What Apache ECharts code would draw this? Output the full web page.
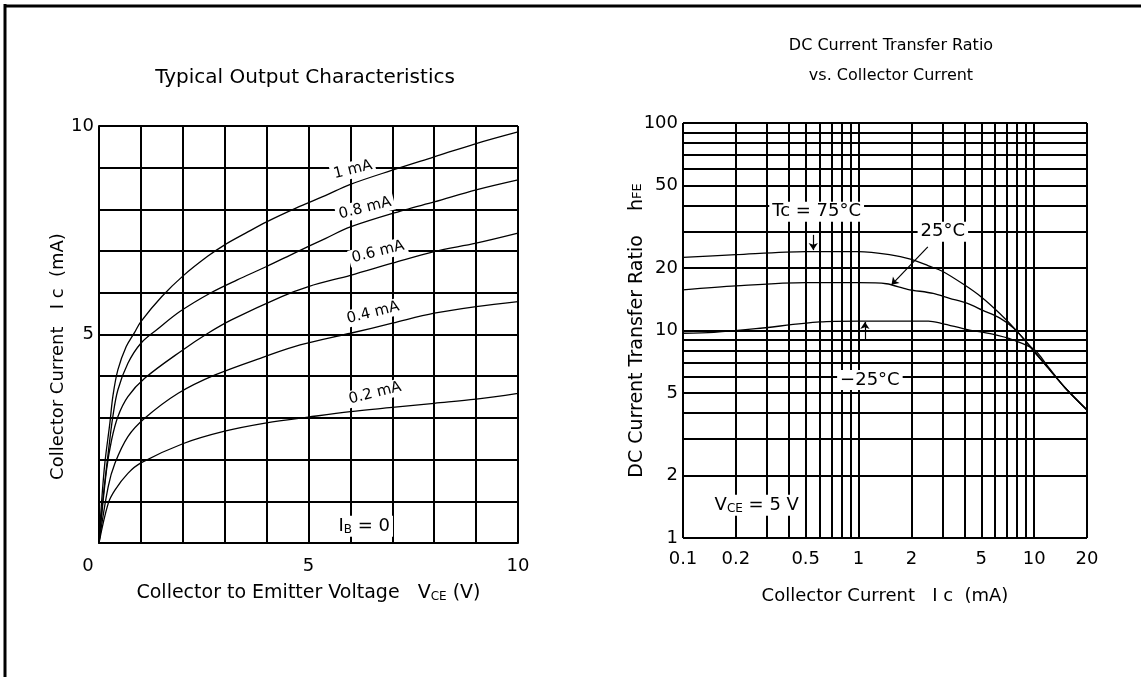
<!DOCTYPE html>
<html><head><meta charset="utf-8">
<script src="https://cdn.jsdelivr.net/npm/echarts@6/dist/echarts.min.js"></script>
<style>html,body{margin:0;padding:0;background:#fff}#c{width:1141px;height:677px}</style>
</head><body><div id="c"></div>
<script>
// ---------- Left chart: Typical Output Characteristics (VCE [V], Ic [mA]) ----------
const ibLabels = ['1 mA', '0.8 mA', '0.6 mA', '0.4 mA', '0.2 mA'];
const curveIb10 = [[0,0],[0.06,0.96],[0.14,1.92],[0.26,2.88],[0.33,3.51],[0.45,4.15],[0.65,4.71],[0.85,5.05],[1.0,5.31],[1.5,5.91],[2.0,6.4],[2.6,6.88],[3.0,7.15],[3.5,7.43],[4.0,7.7],[4.7,8.03],[5.4,8.33],[6.0,8.6],[7.0,8.94],[8.0,9.26],[9.0,9.58],[10,9.86]];
const curveIb08 = [[0,0],[0.1,1.11],[0.22,2.16],[0.33,3.03],[0.45,3.67],[0.69,4.31],[1.0,4.79],[1.4,5.13],[1.93,5.55],[2.65,5.99],[3.3,6.31],[4.0,6.63],[4.7,6.97],[5.4,7.3],[6.0,7.58],[7.3,7.99],[8.0,8.18],[9.0,8.47],[10,8.71]];
const curveIb06 = [[0,0],[0.18,1.75],[0.3,2.47],[0.45,3.03],[0.69,3.51],[1.09,3.95],[2.0,4.63],[2.6,5.03],[3.16,5.35],[4.36,5.91],[5.0,6.15],[6.0,6.42],[7.0,6.71],[8.0,6.99],[9.0,7.19],[10,7.43]];
const curveIb04 = [[0,0],[0.22,1.35],[0.38,1.91],[0.69,2.55],[1.09,2.99],[1.89,3.59],[2.77,4.03],[3.96,4.47],[4.8,4.75],[6.0,5.03],[7.0,5.27],[8.0,5.51],[9.0,5.67],[10,5.79]];
const curveIb02 = [[0,0],[0.22,0.95],[0.38,1.27],[0.69,1.67],[1.0,1.92],[2.0,2.38],[3.0,2.68],[4.0,2.88],[5.0,3.02],[6.0,3.15],[7.0,3.25],[8.0,3.35],[9.0,3.45],[10,3.59]];
const curveIb0 = [[0,0],[10,0]];
const leftXTicks = [0, 5, 10];
const leftYTicks = [5, 10];

// ---------- Right chart: hFE vs Ic (log-log) ----------
const tempLabels = ['Tc = 75°C', '25°C', '−25°C'];
const hfe75 = [[0.1,22.5],[0.2,23.2],[0.5,24],[1,24],[1.5,23.2],[2,22],[2.5,20.5],[3,19.3],[4,16.6],[5,14.5],[6.35,12.1],[8,9.9],[10,7.9],[12.2,6.5],[15,5.3],[20,4.14]];
const hfe25 = [[0.1,15.7],[0.2,16.4],[0.5,17.0],[1,17.0],[1.44,16.8],[1.9,15.8],[2.66,15.1],[3.3,14.3],[4.17,13.5],[5.1,12.5],[6.35,11.5],[7.6,10.3],[9.5,8.4],[12,6.6],[15,5.3],[20,4.14]];
const hfeM25 = [[0.1,9.7],[0.15,9.8],[0.26,10.2],[0.6,11.0],[1,11.1],[2.5,11.1],[3,10.8],[4.17,10.1],[5.8,9.6],[7.6,9.0],[10,8.1],[12,6.7],[15,5.3],[20,4.14]];
const rightXTicks = [0.1, 0.2, 0.5, 1, 2, 5, 10, 20];
const rightYTicks = [1, 2, 5, 10, 20, 50, 100];
const rightXGrid = [0.1,0.2,0.3,0.4,0.5,0.6,0.7,0.8,0.9,1,2,3,4,5,6,7,8,9,10,20];
const rightYGrid = [1,2,3,4,5,6,7,8,9,10,20,30,40,50,60,70,80,90,100];

const FONT = 'DejaVu Sans';
const BLACK = '#000';
const FS = 18;
const chart = echarts.init(document.getElementById('c'), null, {renderer: 'canvas'});

const subRich = {
  sub: {fontSize: 12, fontFamily: FONT, color: BLACK, padding: [7, 0, 0, 0]}
};
const subRichV = {
  sub: {fontSize: 13, fontFamily: FONT, color: BLACK}
};

function curveSeries(data) {
  return {
    type: 'line', xAxisIndex: 0, yAxisIndex: 0, data: data,
    showSymbol: false, symbol: 'none', smooth: 0.35, silent: true, animation: false,
    lineStyle: {color: BLACK, width: 1.3}, z: 3
  };
}
function rCurve(data) {
  return {
    type: 'line', xAxisIndex: 1, yAxisIndex: 1, data: data,
    showSymbol: false, symbol: 'none', smooth: 0.3, silent: true, animation: false,
    lineStyle: {color: BLACK, width: 1.3}, z: 3
  };
}
const annLabel = {
  show: true, position: 'inside', color: BLACK, fontFamily: FONT, fontSize: 15,
  backgroundColor: '#fff', padding: [1, 3]
};
const leftAnn = [
  {coord: [6.06, 8.95], value: ibLabels[0]},
  {coord: [6.35, 8.03], value: ibLabels[1]},
  {coord: [6.66, 6.98], value: ibLabels[2]},
  {coord: [6.54, 5.52], value: ibLabels[3]},
  {coord: [6.59, 3.59], value: ibLabels[4]}
];

// grid lines for log chart (drawn through axis scales via markLine coords)
const gridLines = [];
rightXGrid.forEach(v => gridLines.push([{coord: [v, rightYGrid[0]]}, {coord: [v, rightYGrid[rightYGrid.length - 1]]}]));
rightYGrid.forEach(v => gridLines.push([{coord: [rightXGrid[0], v]}, {coord: [rightXGrid[rightXGrid.length - 1], v]}]));

const tickLabelStyle = {color: BLACK, fontFamily: FONT, fontSize: FS};
const rTickPoints = [];
rightXTicks.forEach(v => rTickPoints.push({coord: [v, rightYTicks[0]], value: String(v),
  label: Object.assign({show: true, position: 'bottom', distance: 12, formatter: String(v)}, tickLabelStyle)}));
rightYTicks.forEach(v => rTickPoints.push({coord: [rightXTicks[0], v], value: String(v),
  label: Object.assign({show: true, position: 'left', distance: 5, formatter: String(v)}, tickLabelStyle)}));

const option = {
  backgroundColor: '#fff',
  animation: false,
  textStyle: {fontFamily: FONT, color: BLACK},
  title: [
    {text: 'Typical Output Characteristics', left: 300, top: 63, textAlign: 'center',
     textStyle: {fontFamily: FONT, fontSize: 20, fontWeight: 'normal', color: BLACK}},
    {text: 'DC Current Transfer Ratio\nvs. Collector Current', left: 886, top: 26, textAlign: 'center',
     textStyle: {fontFamily: FONT, fontSize: 16, fontWeight: 'normal', color: BLACK, lineHeight: 30}}
  ],
  grid: [
    {left: 99, top: 126, right: 623, bottom: 134},
    {left: 683, top: 123, right: 54, bottom: 139}
  ],
  xAxis: [
    {type: 'value', gridIndex: 0, min: 0, max: 10, interval: 1,
     name: 'Collector to Emitter Voltage   V{sub|CE} (V)', nameLocation: 'middle', nameGap: 41,
     nameTextStyle: {fontFamily: FONT, fontSize: 19, color: BLACK, rich: subRich},
     axisLine: {show: true, lineStyle: {color: BLACK, width: 2}}, axisTick: {show: false},
     axisLabel: {margin: 14, color: BLACK, fontFamily: FONT, fontSize: FS,
       rich: {z: {fontFamily: FONT, fontSize: FS, color: BLACK, padding: [0, 22, 0, 0]}},
       formatter: v => v === 0 ? '{z|0}' : (leftXTicks.indexOf(v) >= 0 ? String(v) : '')},
     splitLine: {show: true, lineStyle: {color: BLACK, width: 2}}},
    {type: 'log', gridIndex: 1, min: 0.1, max: 20, logBase: 10,
     name: 'Collector Current   I c  (mA)', nameLocation: 'middle', nameGap: 49,
     nameTextStyle: {fontFamily: FONT, fontSize: FS, color: BLACK},
     axisLine: {show: false}, axisTick: {show: false}, axisLabel: {show: false}, splitLine: {show: false}}
  ],
  yAxis: [
    {type: 'value', gridIndex: 0, min: 0, max: 10, interval: 1,
     name: 'Collector Current   I c  (mA)', nameLocation: 'middle', nameGap: 29, nameRotate: 90,
     nameTextStyle: {fontFamily: FONT, fontSize: FS, color: BLACK, padding: [0, 44, 0, 0]},
     axisLine: {show: true, lineStyle: {color: BLACK, width: 2}}, axisTick: {show: false},
     axisLabel: {margin: 5, color: BLACK, fontFamily: FONT, fontSize: FS,
       formatter: v => leftYTicks.indexOf(v) >= 0 ? String(v) : ''},
     splitLine: {show: true, lineStyle: {color: BLACK, width: 2}}},
    {type: 'log', gridIndex: 1, min: 1, max: 100, logBase: 10,
     name: 'DC Current Transfer Ratio    h{sub|FE}', nameLocation: 'middle', nameGap: 36, nameRotate: 90,
     nameTextStyle: {fontFamily: FONT, fontSize: 19, color: BLACK, rich: subRichV},
     axisLine: {show: false}, axisTick: {show: false}, axisLabel: {show: false}, splitLine: {show: false}}
  ],
  graphic: [
    {type: 'line', shape: {x1: 5, y1: 4, x2: 5, y2: 677}, style: {stroke: BLACK, lineWidth: 3}, silent: true},
    {type: 'line', shape: {x1: 4, y1: 6, x2: 1141, y2: 6}, style: {stroke: BLACK, lineWidth: 3}, silent: true}
  ],
  series: [
    curveSeries(curveIb10), curveSeries(curveIb08), curveSeries(curveIb06),
    curveSeries(curveIb04), curveSeries(curveIb02), curveSeries(curveIb0),
    // left annotations
    {type: 'line', xAxisIndex: 0, yAxisIndex: 0, data: [], z: 6, silent: true, animation: false,
     markPoint: {symbol: 'rect', symbolSize: 1, silent: true, animation: false,
       itemStyle: {color: 'rgba(0,0,0,0)'},
       label: Object.assign({}, annLabel, {rotate: 14, formatter: p => p.value}),
       data: leftAnn.concat([{coord: [6.33, 0.4], value: 'I{sub|B} = 0',
         label: Object.assign({}, annLabel, {rotate: 0, fontSize: 18, formatter: 'I{sub|B} = 0', rich: subRich})}])}},
    // right grid lines + tick labels
    {type: 'line', xAxisIndex: 1, yAxisIndex: 1, data: [], z: 1, silent: true, animation: false,
     markLine: {symbol: 'none', silent: true, animation: false,
       lineStyle: {color: BLACK, width: 2, type: 'solid'}, label: {show: false}, data: gridLines},
     markPoint: {symbol: 'rect', symbolSize: 0, silent: true, animation: false,
       itemStyle: {color: 'rgba(0,0,0,0)'}, data: rTickPoints}},
    rCurve(hfe75), rCurve(hfe25), rCurve(hfeM25),
    // right annotations
    {type: 'line', xAxisIndex: 1, yAxisIndex: 1, data: [], z: 6, silent: true, animation: false,
     markPoint: {symbol: 'rect', symbolSize: 1, silent: true, animation: false,
       itemStyle: {color: 'rgba(0,0,0,0)'},
       label: Object.assign({}, annLabel, {fontSize: 18, formatter: p => p.value}),
       data: [
         {coord: [0.577, 37.4], value: tempLabels[0]},
         {coord: [3.02, 29.9], value: tempLabels[1]},
         {coord: [1.16, 5.77], value: tempLabels[2]},
         {coord: [0.263, 1.44], value: 'V{sub|CE} = 5 V',
          label: Object.assign({}, annLabel, {fontSize: 18, formatter: 'V{sub|CE} = 5 V', rich: subRich})}
       ]},
     markLine: {symbol: ['none', 'arrow'], symbolSize: 7, silent: true, animation: false,
       lineStyle: {color: BLACK, width: 1.2, type: 'solid'}, label: {show: false},
       data: [
         [{coord: [0.552, 28.9]}, {coord: [0.552, 24.4]}],
         [{coord: [2.48, 25.3]}, {coord: [1.54, 16.6]}],
         [{coord: [1.087, 9.0]}, {coord: [1.087, 11.0]}]
       ]}}
  ]
};
chart.setOption(option);
</script>
</body></html>
